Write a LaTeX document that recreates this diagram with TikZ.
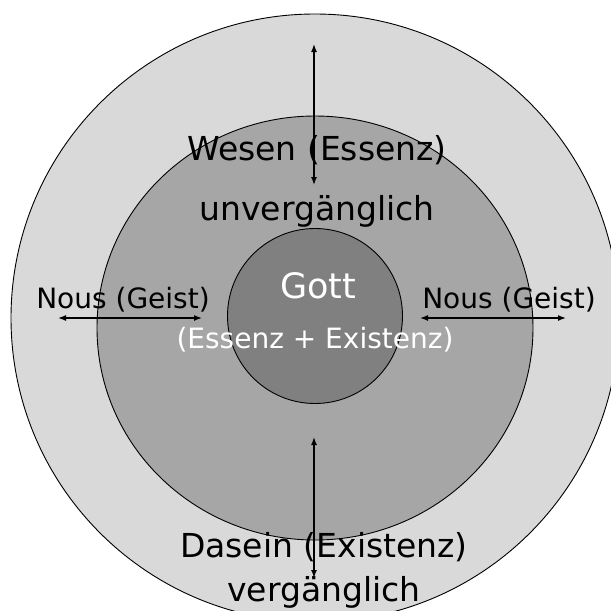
\documentclass[tikz,border=0pt]{standalone}
\usepackage{fontspec}
\setmainfont{DejaVu Sans}
\usetikzlibrary{arrows.meta,shapes.geometric}
\definecolor{ringA}{HTML}{D9D9D9}
\definecolor{ringB}{HTML}{A6A6A6}
\definecolor{ringC}{HTML}{808080}
\tikzset{
  ring/.style={draw=black, line width=0.9pt},
  dbl/.style={{Latex[length=8pt,width=6pt]}-{Latex[length=8pt,width=6pt]}, line width=1.4pt},
  lbl/.style={inner sep=0pt, anchor=base, font=\fontsize{33}{36}\selectfont},
  sml/.style={inner sep=0pt, anchor=base, font=\fontsize{28}{32}\selectfont},
}
\begin{document}
\begin{tikzpicture}[x=1pt,y=-1pt]
\useasboundingbox (0,0) rectangle (611,611);
\fill[white] (0,0) rectangle (611,611);
\node[ring, fill=ringA, circle, minimum size=608pt, inner sep=0pt] (outer) at (315,318) {};
\node[ring, fill=ringB, ellipse, minimum width=436pt, minimum height=424pt, inner sep=0pt] (middle) at (315,328) {};
\node[ring, fill=ringC, circle, minimum size=175pt, inner sep=0pt] (inner) at (315,316) {};

\node[lbl] (wesen) at (317,160) {Wesen (Essenz)};
\node[lbl] (unv) at (317,220) {unvergänglich};
\node[lbl, text=white, font=\fontsize{35}{40}\selectfont] (gott) at (318,298) {Gott};
\node[sml, text=white] (ess) at (315,348) {(Essenz + Existenz)};
\node[sml] (nousL) at (123,308) {Nous (Geist)};
\node[sml] (nousR) at (509,308) {Nous (Geist)};
\node[lbl] (dasein) at (324,557) {Dasein (Existenz)};
\node[lbl] (verg) at (324,601) {vergänglich};

\coordinate (tA) at (314,44);
\coordinate (tB) at (314,185);
\coordinate (bA) at (314,437);
\coordinate (bB) at (314,578);
\coordinate (lA) at (58,318);
\coordinate (lB) at (202,318);
\coordinate (rA) at (420,318);
\coordinate (rB) at (566,318);
\draw[dbl] (tA) -- (tB);
\draw[dbl] (bA) -- (bB);
\draw[dbl] (lA) -- (lB);
\draw[dbl] (rA) -- (rB);
\end{tikzpicture}
\end{document}
